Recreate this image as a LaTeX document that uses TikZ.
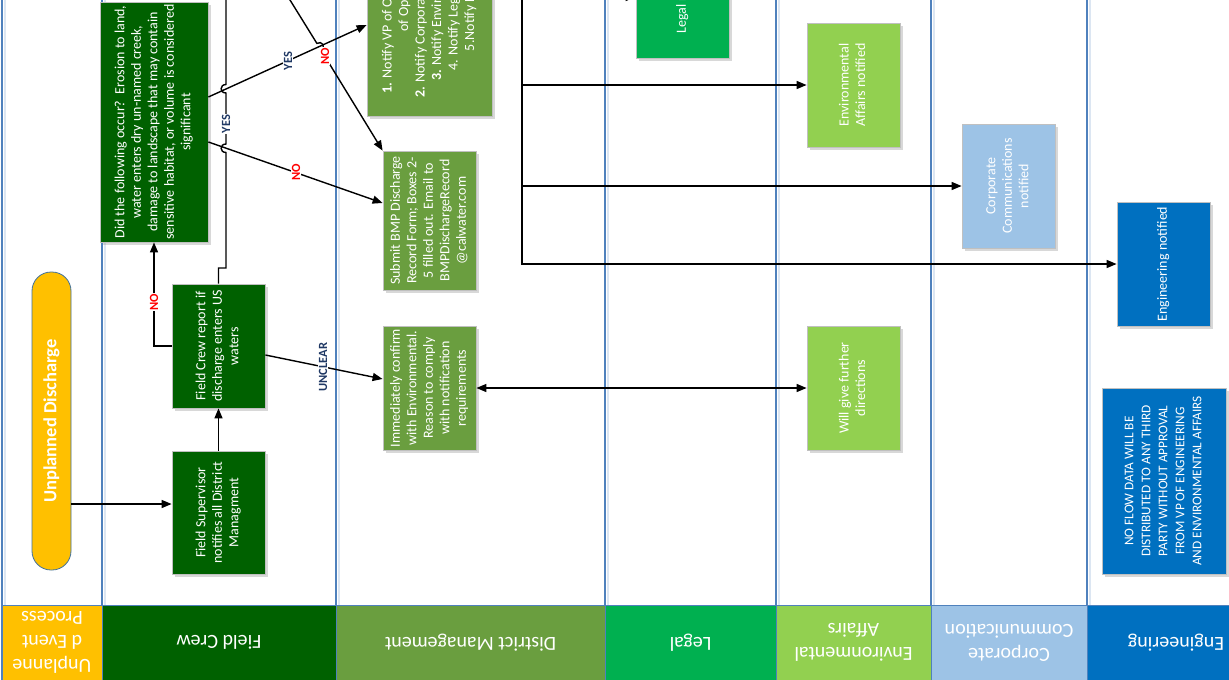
\documentclass[tikz,border=0pt]{standalone}
\usepackage{fontspec}
\usepackage{graphicx}
\setmainfont{Carlito}
\usetikzlibrary{arrows.meta,shadows}
\definecolor{lanec}{HTML}{4F81BD}
\definecolor{laneshade}{HTML}{DCE6F2}
\definecolor{orng}{HTML}{FFC000}
\definecolor{fcg}{HTML}{006100}
\definecolor{dmg}{HTML}{6A9E3F}
\definecolor{lgg}{HTML}{00B050}
\definecolor{eag}{HTML}{92D050}
\definecolor{ccb}{HTML}{9DC3E6}
\definecolor{enb}{HTML}{0070C0}
\definecolor{navy}{HTML}{1F3864}
\definecolor{boxb}{HTML}{C0C0C0}
\definecolor{pillb}{HTML}{41719C}
\newcommand{\vtxt}[1]{\rotatebox{90}{\begin{tabular}{@{}c@{}}#1\end{tabular}}}
\begin{document}
\begin{tikzpicture}[x=1pt,y=-1pt,
  lane/.style={draw=lanec,line width=1.3pt},
  laneshd/.style={draw=laneshade,line width=2pt},
  box/.style={draw=boxb,line width=0.8pt,inner sep=0pt,text=white,
    font=\fontsize{14}{16.5}\selectfont,
    drop shadow={shadow xshift=2.5pt,shadow yshift=-2.5pt,opacity=0.25,fill=black!60}},
  startn/.style={draw=pillb,line width=0.8pt,fill=orng,rounded corners=19pt,inner sep=0pt,
    text=white,font=\fontsize{18.5}{22}\selectfont\bfseries},
  hdr/.style={draw=lanec,line width=0.8pt,text=white,rotate=180,align=center,inner sep=0pt,
    font=\fontsize{20}{24}\selectfont},
  conn/.style={line width=1.4pt,draw=black},
  arr/.style={conn,-{Triangle[length=10pt,width=8pt]}},
  darr/.style={conn,{Triangle[length=10pt,width=8pt]}-{Triangle[length=10pt,width=8pt]}},
  yeslab/.style={text=navy,font=\fontsize{12.5}{14}\selectfont\bfseries,rotate=90,fill=white,inner sep=1pt},
  nolab/.style={yeslab,text=red}]
\useasboundingbox (0,0) rectangle (1229,680);
\clip (0,0) rectangle (1229,680);
\fill[white] (0,0) rectangle (1229,680);
% lanes
\foreach \x in {2,102,336,605,776,931,1087} {
  \draw[laneshd] (\x+2.5,0) -- (\x+2.5,605);
  \draw[lane] (\x,0) -- (\x,680);
}
% headers
\node[hdr,fill=orng,minimum width=100pt,minimum height=75pt] (h1) at (52,642.5) {Unplanne\\d Event\\Process};
\node[hdr,fill=fcg,minimum width=234pt,minimum height=75pt] (h2) at (219,642.5) {Field Crew};
\node[hdr,fill=dmg,minimum width=269pt,minimum height=75pt] (h3) at (470.5,642.5) {District Management};
\node[hdr,fill=lgg,minimum width=171pt,minimum height=75pt] (h4) at (690.5,642.5) {Legal};
\node[hdr,fill=eag,minimum width=155pt,minimum height=75pt] (h5) at (853.5,642.5) {Environmental\\Affairs};
\node[hdr,fill=ccb,minimum width=156pt,minimum height=75pt] (h6) at (1009,642.5) {Corporate\\Communication};
\node[hdr,fill=enb,minimum width=178pt,minimum height=75pt] (h7) at (1176,642.5) {Engineering};
% nodes
\node[startn,minimum width=39pt,minimum height=298pt] (start) at (51.5,421) {\rotatebox{90}{Unplanned Discharge}};
\node[box,fill=fcg,minimum width=93pt,minimum height=123pt] (fsup) at (218.5,512.5)
  {\vtxt{Field Supervisor\\notifies all District\\Managment}};
\node[box,fill=fcg,minimum width=93pt,minimum height=124pt] (fcr) at (218.5,346)
  {\vtxt{Field Crew report if\\discharge enters US\\waters}};
\node[box,fill=fcg,minimum width=108pt,minimum height=240pt] (dec) at (154,122)
  {\vtxt{Did the following occur?\ \ Erosion to land,\\water enters dry un-named creek,\\damage to landscape that may contain\\sensitive habitat, or volume is considered\\significant}};
\node[box,fill=dmg,minimum width=125pt,minimum height=246pt] (notify) at (429.5,-7)
  {\vtxt{\textbf{1.} Notify VP of Operations/Director\\of Operations\\\textbf{2.} Notify Corporate Communications\\\textbf{3.} Notify Environmental Affairs\\4. Notify Legal Department\\5.Notify Engineering}};
\node[box,fill=dmg,minimum width=93pt,minimum height=139pt] (submit) at (429.5,220.5)
  {\vtxt{Submit BMP Discharge\\Record Form; Boxes 2-\\5 filled out. Email to\\BMPDischargeRecord\\@calwater.com}};
\node[box,fill=dmg,minimum width=93pt,minimum height=124pt] (confirm) at (429.5,388)
  {\vtxt{Immediately confirm\\with Environmental.\\Reason to comply\\with notification\\requirements}};
\node[box,fill=lgg,minimum width=93pt,minimum height=126pt] (legal) at (682.5,-5)
  {\vtxt{Legal notified}};
\node[box,fill=eag,minimum width=93pt,minimum height=124pt] (envn) at (853.5,85)
  {\vtxt{Environmental\\Affairs notified}};
\node[box,fill=eag,minimum width=93pt,minimum height=124pt] (will) at (853.5,388)
  {\vtxt{Will give further\\directions}};
\node[box,fill=ccb,minimum width=93pt,minimum height=124pt] (corp) at (1008.5,186)
  {\vtxt{Corporate\\Communications\\notified}};
\node[box,fill=enb,minimum width=93pt,minimum height=124pt] (eng) at (1163.5,264)
  {\vtxt{Engineering notified}};
\node[box,fill=enb,minimum width=124pt,minimum height=186pt,font=\fontsize{13.3}{17}\selectfont] (noflow) at (1164,481)
  {\vtxt{NO FLOW DATA WILL BE\\DISTRIBUTED TO ANY THIRD\\PARTY WITHOUT APPROVAL\\FROM VP OF ENGINEERING\\AND ENVIRONMENTAL AFFAIRS}};
% free ends
\coordinate (topA) at (226,-10);
\coordinate (topB) at (283.8,-10);
\coordinate (topC) at (522,-10);
\coordinate (jl) at (522,-3);
\coordinate (je) at (522,85);
\coordinate (jc) at (522,186);
% connectors
\draw[arr] (start.east |- 0,504) -- (fsup.west |- 0,504);
\draw[arr] (fsup.north) -- (fcr.south);
\draw[arr] (fcr.west) -| (dec.south);
\node[nolab] (lno1) at (154,302) {NO};
\draw[arr] (dec.east |- 0,97) -- (notify.west |- 0,25);
\draw[arr] (dec.east |- 0,142) -- (submit.west |- 0,203);
\draw[conn] (fcr.north) -- (218.5,268) -- (226,268) -- (226,152.5)
  .. controls (219.5,152.5) and (219.5,144) .. (226,144) -- (226,93)
  .. controls (219.5,93) and (219.5,84.5) .. (226,84.5) -- (topA);
\node[yeslab] (lyes1) at (226,124) {YES};
\node[yeslab] (lyes2) at (288,61) {YES};
\node[nolab] (lno2) at (296,172.5) {NO};
\draw[arr] (topB) -- (316.9,43.4) .. controls (322,40.2) and (326.2,47) .. (321.1,50.2) -- (submit.north west);
\node[nolab] (lno3) at (325,56) {NO};
\draw[arr] (fcr.east |- 0,355) -- (confirm.west |- 0,379);
\node[yeslab] (lunc) at (323,367) {UNCLEAR};
\draw[darr] (confirm.east) -- (will.west);
\draw[arr] (topC) |- (eng.west);
\draw[arr] (jl) -- (legal.west |- jl);
\draw[arr] (je) -- (envn.west);
\draw[arr] (jc) -- (corp.west);
\end{tikzpicture}
\end{document}
